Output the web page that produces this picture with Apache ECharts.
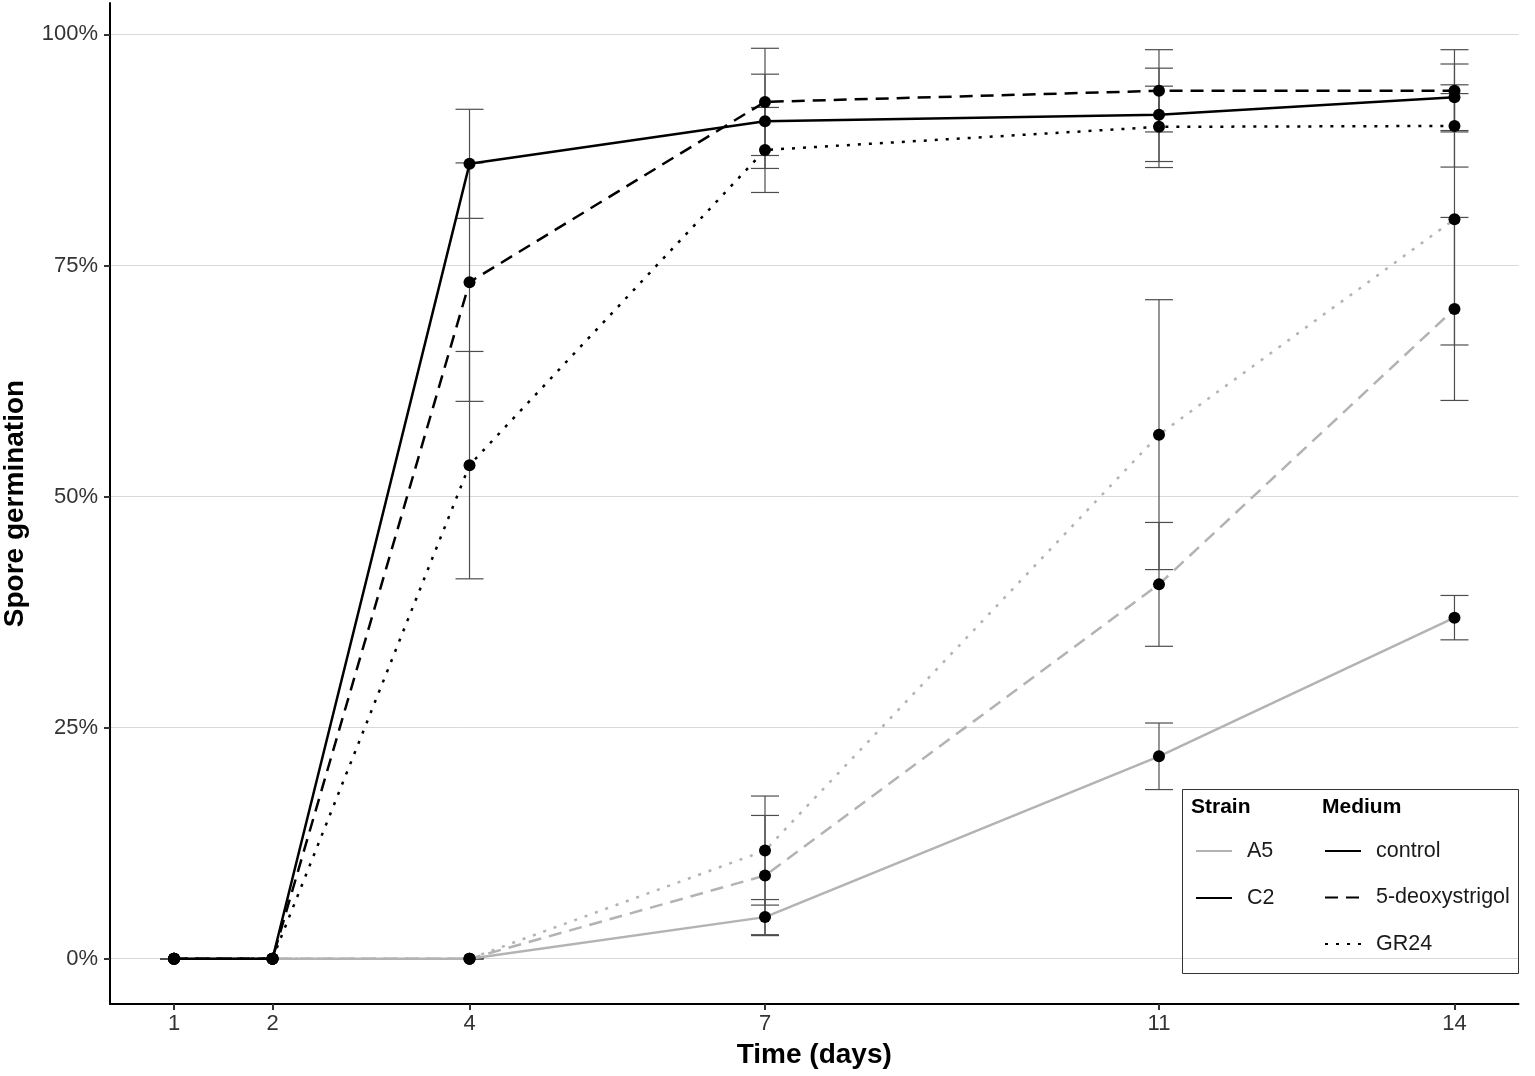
<!DOCTYPE html>
<html>
<head>
<meta charset="utf-8">
<title>Spore germination</title>
<script src="https://cdn.jsdelivr.net/npm/echarts@6/dist/echarts.min.js"></script>
<style>
    html, body { margin: 0; padding: 0; background: #fff; }
    #chart { width: 1535px; height: 1076px; }
</style>
</head>
<body>
<div id="chart"></div>
<script>
// days of measurement
var days = [1, 2, 4, 7, 11, 14];
var yTicks = [0, 25, 50, 75, 100];

// mean germination (%) and error (+/-)
var c2Control = [0, 0, 86.0, 90.6, 91.3, 93.2];
var c2ControlErr = [0, 0, 5.9, 5.1, 5.05, 3.6];
var c2Deoxy = [0, 0, 73.2, 92.7, 93.9, 93.9];
var c2DeoxyErr = [0, 0, 12.9, 5.8, 4.45, 4.45];
var c2Gr24 = [0, 0, 53.4, 87.5, 90.0, 90.1];
var c2Gr24Err = [0, 0, 12.3, 4.6, 4.4, 4.45];

var a5Control = [0, 0, 0, 4.5, 21.9, 36.9];
var a5ControlErr = [0, 0, 0, 1.9, 3.6, 2.4];
var a5Deoxy = [0, 0, 0, 9.0, 40.5, 70.3];
var a5DeoxyErr = [0, 0, 0, 6.5, 6.7, 9.9];
var a5Gr24 = [0, 0, 0, 11.7, 56.7, 80.0];
var a5Gr24Err = [0, 0, 0, 5.9, 14.6, 13.6];

var FONT = 'Liberation Sans, Arial, Helvetica, sans-serif';
var GREY = '#b3b3b3';
var DASH = [13, 8];
var DOT = [3, 8];

var chart = echarts.init(document.getElementById('chart'));

// 误差线
function errSeries(name, mean, err) {
    var d = days.map(function (x, i) {
        return [x, mean[i] - err[i], mean[i] + err[i]];
    });
    return {
        name: name + ' err',
        type: 'custom',
        z: 1,
        silent: true,
        encode: { x: 0, y: [1, 2] },
        data: d,
        renderItem: function (params, api) {
            var x = api.value(0);
            var lo = api.coord([x, api.value(1)]);
            var hi = api.coord([x, api.value(2)]);
            var w = 14;
            var st = { stroke: '#4d4d4d', lineWidth: 1.2 };
            return {
                type: 'group',
                children: [
                    { type: 'line', shape: { x1: hi[0], y1: hi[1], x2: lo[0], y2: lo[1] }, style: st },
                    { type: 'line', shape: { x1: hi[0] - w, y1: hi[1], x2: hi[0] + w, y2: hi[1] }, style: st },
                    { type: 'line', shape: { x1: lo[0] - w, y1: lo[1], x2: lo[0] + w, y2: lo[1] }, style: st }
                ]
            };
        }
    };
}

function lineSeries(name, mean, color, type) {
    return {
        name: name,
        type: 'line',
        z: 3,
        data: days.map(function (x, i) { return [x, mean[i]]; }),
        symbol: 'circle',
        symbolSize: 12,
        showSymbol: true,
        itemStyle: { color: '#000' },
        lineStyle: { color: color, width: 2.5, type: type },
        emphasis: { disabled: true }
    };
}

// legend-only series
function keySeries(name, color, type) {
    return {
        name: name,
        type: 'line',
        data: [],
        symbol: 'none',
        itemStyle: { color: color, opacity: 0 },
        lineStyle: { color: color, width: 2.5, type: type }
    };
}

var series = [
    errSeries('A5 control', a5Control, a5ControlErr),
    errSeries('A5 5-deoxystrigol', a5Deoxy, a5DeoxyErr),
    errSeries('A5 GR24', a5Gr24, a5Gr24Err),
    errSeries('C2 control', c2Control, c2ControlErr),
    errSeries('C2 5-deoxystrigol', c2Deoxy, c2DeoxyErr),
    errSeries('C2 GR24', c2Gr24, c2Gr24Err),

    lineSeries('A5 control', a5Control, GREY, 'solid'),
    lineSeries('A5 5-deoxystrigol', a5Deoxy, GREY, DASH),
    lineSeries('A5 GR24', a5Gr24, GREY, DOT),
    lineSeries('C2 control', c2Control, '#000', 'solid'),
    lineSeries('C2 5-deoxystrigol', c2Deoxy, '#000', DASH),
    lineSeries('C2 GR24', c2Gr24, '#000', DOT),

    keySeries('A5', GREY, 'solid'),
    keySeries('C2', '#000', 'solid'),
    keySeries('control', '#000', 'solid'),
    keySeries('5-deoxystrigol', '#000', DASH),
    keySeries('GR24', '#000', DOT)
];

var legendBase = {
    orient: 'vertical',
    itemWidth: 36,
    itemHeight: 24,
    padding: 0,
    selectedMode: false,
    itemStyle: { opacity: 0 },
    textStyle: { fontFamily: FONT, fontSize: 21.5, lineHeight: 24, color: '#1a1a1a', padding: [0, 0, 0, 10] }
};

var option = {
    animation: false,
    backgroundColor: '#fff',
    textStyle: { fontFamily: FONT },
    grid: { left: 110, right: 16.5, top: 3, bottom: 72, containLabel: false, outerBoundsMode: 'none' },
    xAxis: {
        type: 'value',
        min: 0.35,
        max: 14.65,
        name: 'Time (days)',
        nameLocation: 'middle',
        nameGap: 37,
        nameTextStyle: { fontFamily: FONT, fontSize: 28, fontWeight: 'bold', color: '#000' },
        axisLine: { show: true, onZero: false, lineStyle: { color: '#000', width: 2 } },
        axisTick: { show: true, length: 6, customValues: days, lineStyle: { color: '#333', width: 2 } },
        axisLabel: { customValues: days, fontSize: 22, color: '#333', margin: 9, fontFamily: FONT },
        splitLine: { show: false }
    },
    yAxis: {
        type: 'value',
        min: -4.9,
        max: 103.4,
        name: 'Spore germination',
        nameLocation: 'middle',
        nameGap: 81,
        nameTextStyle: { fontFamily: FONT, fontSize: 28, fontWeight: 'bold', color: '#000' },
        axisLine: { show: true, onZero: false, lineStyle: { color: '#000', width: 2 } },
        axisTick: { show: true, length: 6, customValues: yTicks, lineStyle: { color: '#333', width: 2 } },
        axisLabel: {
            customValues: yTicks, fontSize: 22, color: '#333', margin: 12, fontFamily: FONT,
            formatter: function (v) { return v + '%'; }
        },
        splitLine: { show: true, lineStyle: { color: '#d9d9d9', width: 1 } }
    },
    legend: [
        Object.assign({}, legendBase, { data: ['A5', 'C2'], left: 1195, top: 839, itemGap: 23 }),
        Object.assign({}, legendBase, { data: ['control', '5-deoxystrigol', 'GR24'], left: 1324, top: 839, itemGap: 22.5 })
    ],
    graphic: [
        { type: 'rect', left: 1182, top: 789, z: 10, shape: { width: 336, height: 184 },
          style: { fill: 'rgba(255,255,255,0)', stroke: '#333', lineWidth: 1 } },
        { type: 'text', left: 1191, top: 797, z: 10,
          style: { text: 'Strain', font: 'bold 21px ' + FONT, fill: '#000' } },
        { type: 'text', left: 1322, top: 797, z: 10,
          style: { text: 'Medium', font: 'bold 21px ' + FONT, fill: '#000' } }
    ],
    series: series
};

chart.setOption(option);
</script>
</body>
</html>
